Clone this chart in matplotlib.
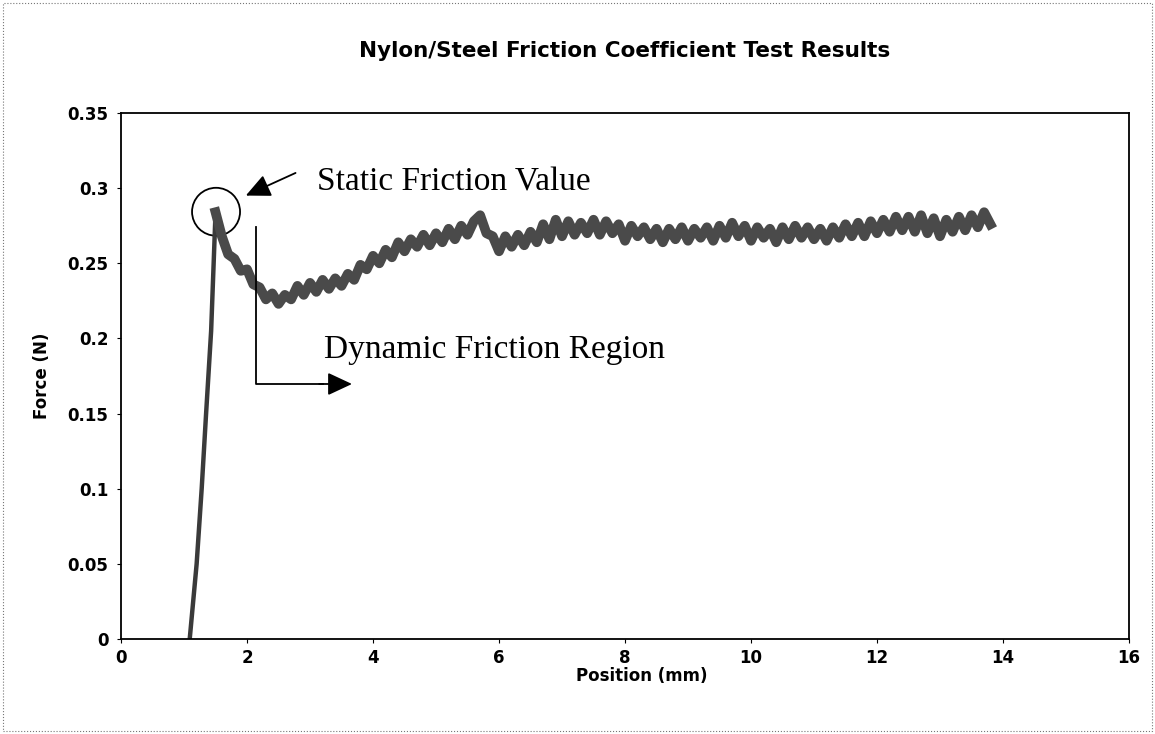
import matplotlib.pyplot as plt
from matplotlib.patches import Ellipse, FancyArrowPatch, Rectangle

# rising part after contact
x_rise = [1.09, 1.20, 1.28, 1.35, 1.43, 1.47, 1.50]
f_rise = [0.0, 0.05, 0.10, 0.15, 0.205, 0.25, 0.284]

# sliding part (noisy band)
x_slide = [1.6, 1.7, 1.8, 1.9, 2.0, 2.1, 2.2, 2.3, 2.4, 2.5,
           2.6, 2.7, 2.8, 2.9, 3.0, 3.1, 3.2, 3.3, 3.4, 3.5,
           3.6, 3.7, 3.8, 3.9, 4.0, 4.1, 4.2, 4.3, 4.4, 4.5,
           4.6, 4.7, 4.8, 4.9, 5.0, 5.1, 5.2, 5.3, 5.4, 5.5,
           5.6, 5.7, 5.8, 5.9, 6.0, 6.1, 6.2, 6.3, 6.4, 6.5,
           6.6, 6.7, 6.8, 6.9, 7.0, 7.1, 7.2, 7.3, 7.4, 7.5,
           7.6, 7.7, 7.8, 7.9, 8.0, 8.1, 8.2, 8.3, 8.4, 8.5,
           8.6, 8.7, 8.8, 8.9, 9.0, 9.1, 9.2, 9.3, 9.4, 9.5,
           9.6, 9.7, 9.8, 9.9, 10.0, 10.1, 10.2, 10.3, 10.4, 10.5,
           10.6, 10.7, 10.8, 10.9, 11.0, 11.1, 11.2, 11.3, 11.4, 11.5,
           11.6, 11.7, 11.8, 11.9, 12.0, 12.1, 12.2, 12.3, 12.4, 12.5,
           12.6, 12.7, 12.8, 12.9, 13.0, 13.1, 13.2, 13.3, 13.4, 13.5,
           13.6, 13.7, 13.8]
f_slide = [0.268, 0.256, 0.253, 0.245, 0.246, 0.236, 0.234, 0.226, 0.230, 0.223,
           0.229, 0.226, 0.235, 0.229, 0.237, 0.231, 0.239, 0.233, 0.240, 0.235,
           0.243, 0.239, 0.249, 0.246, 0.255, 0.250, 0.259, 0.254, 0.264, 0.258,
           0.266, 0.261, 0.269, 0.262, 0.270, 0.264, 0.273, 0.266, 0.275, 0.269,
           0.278, 0.282, 0.270, 0.268, 0.258, 0.268, 0.261, 0.269, 0.262, 0.271,
           0.264, 0.276, 0.266, 0.279, 0.268, 0.278, 0.269, 0.277, 0.270, 0.279,
           0.269, 0.278, 0.270, 0.276, 0.265, 0.275, 0.268, 0.274, 0.266, 0.273,
           0.264, 0.273, 0.266, 0.274, 0.265, 0.273, 0.267, 0.274, 0.265, 0.275,
           0.267, 0.277, 0.268, 0.275, 0.265, 0.274, 0.267, 0.273, 0.264, 0.274,
           0.266, 0.275, 0.267, 0.274, 0.266, 0.273, 0.265, 0.274, 0.267, 0.276,
           0.268, 0.277, 0.268, 0.278, 0.270, 0.279, 0.271, 0.281, 0.272, 0.281,
           0.271, 0.282, 0.270, 0.280, 0.268, 0.279, 0.271, 0.281, 0.272, 0.282,
           0.274, 0.284, 0.276]

x_ticks = [0, 2, 4, 6, 8, 10, 12, 14, 16]
y_ticks = [0, 0.05, 0.1, 0.15, 0.2, 0.25, 0.3, 0.35]
y_labels = ['0', '0.05', '0.1', '0.15', '0.2', '0.25', '0.3', '0.35']

fig = plt.figure(figsize=(11.55, 7.34), dpi=100)
ax = fig.add_axes([0.1048, 0.1294, 0.8727, 0.7166])

ax.plot(x_rise, f_rise, color='#3a3a3a', lw=3.2, solid_capstyle='butt')
xs = [x_rise[-1]] + x_slide
fs = [f_rise[-1]] + f_slide
ax.plot(xs, fs, color='#4a4a4a', lw=7)

ax.set_xlim(0, 16)
ax.set_ylim(0, 0.35)
ax.set_xticks(x_ticks)
ax.set_yticks(y_ticks)
ax.set_yticklabels(y_labels)
ax.tick_params(direction='out', length=3, width=0.8, labelsize=12)
ax.tick_params(axis='x', pad=4)
ax.tick_params(axis='y', pad=6)
for lab in ax.get_xticklabels() + ax.get_yticklabels():
    lab.set_fontweight('bold')
for s in ax.spines.values():
    s.set_linewidth(1.3)

ax.set_title('Nylon/Steel Friction Coefficient Test Results', fontsize=15.5,
             fontweight='bold', pad=40)
ax.set_xlabel('Position (mm)', fontsize=12, fontweight='bold')
ax.set_ylabel('Force (N)', fontsize=12, fontweight='bold')
ax.xaxis.set_label_coords(0.517, -0.07)
ax.yaxis.set_label_coords(-0.078, 0.5)
ax.xaxis.label.set_va('center')
ax.yaxis.label.set_va('center')

# annotations
ax.add_patch(Ellipse((1.508, 0.2843), 0.762, 0.0319, fill=False, ec='black', lw=1.3))
ax.add_patch(FancyArrowPatch((2.81, 0.3109), (1.94, 0.2943),
                             arrowstyle='-|>,head_length=0.75,head_width=0.35',
                             mutation_scale=20, color='black', lw=1.3))
ax.text(3.11, 0.2987, 'Static Friction Value', fontsize=24,
        family='Liberation Serif', va='baseline')

ax.plot([2.143, 2.143, 3.2], [0.2743, 0.1697, 0.1697], color='black', lw=1.3)
ax.add_patch(FancyArrowPatch((3.1, 0.1697), (3.71, 0.1697),
                             arrowstyle='-|>,head_length=0.75,head_width=0.35',
                             mutation_scale=20, color='black', lw=1.3))
ax.text(3.22, 0.187, 'Dynamic Friction Region', fontsize=24,
        family='Liberation Serif', va='baseline')

fig.patches.append(Rectangle((0.003, 0.004), 0.994, 0.992, transform=fig.transFigure,
                             fill=False, ec='#777777', lw=0.8, ls=':'))

fig.savefig('out.png')
